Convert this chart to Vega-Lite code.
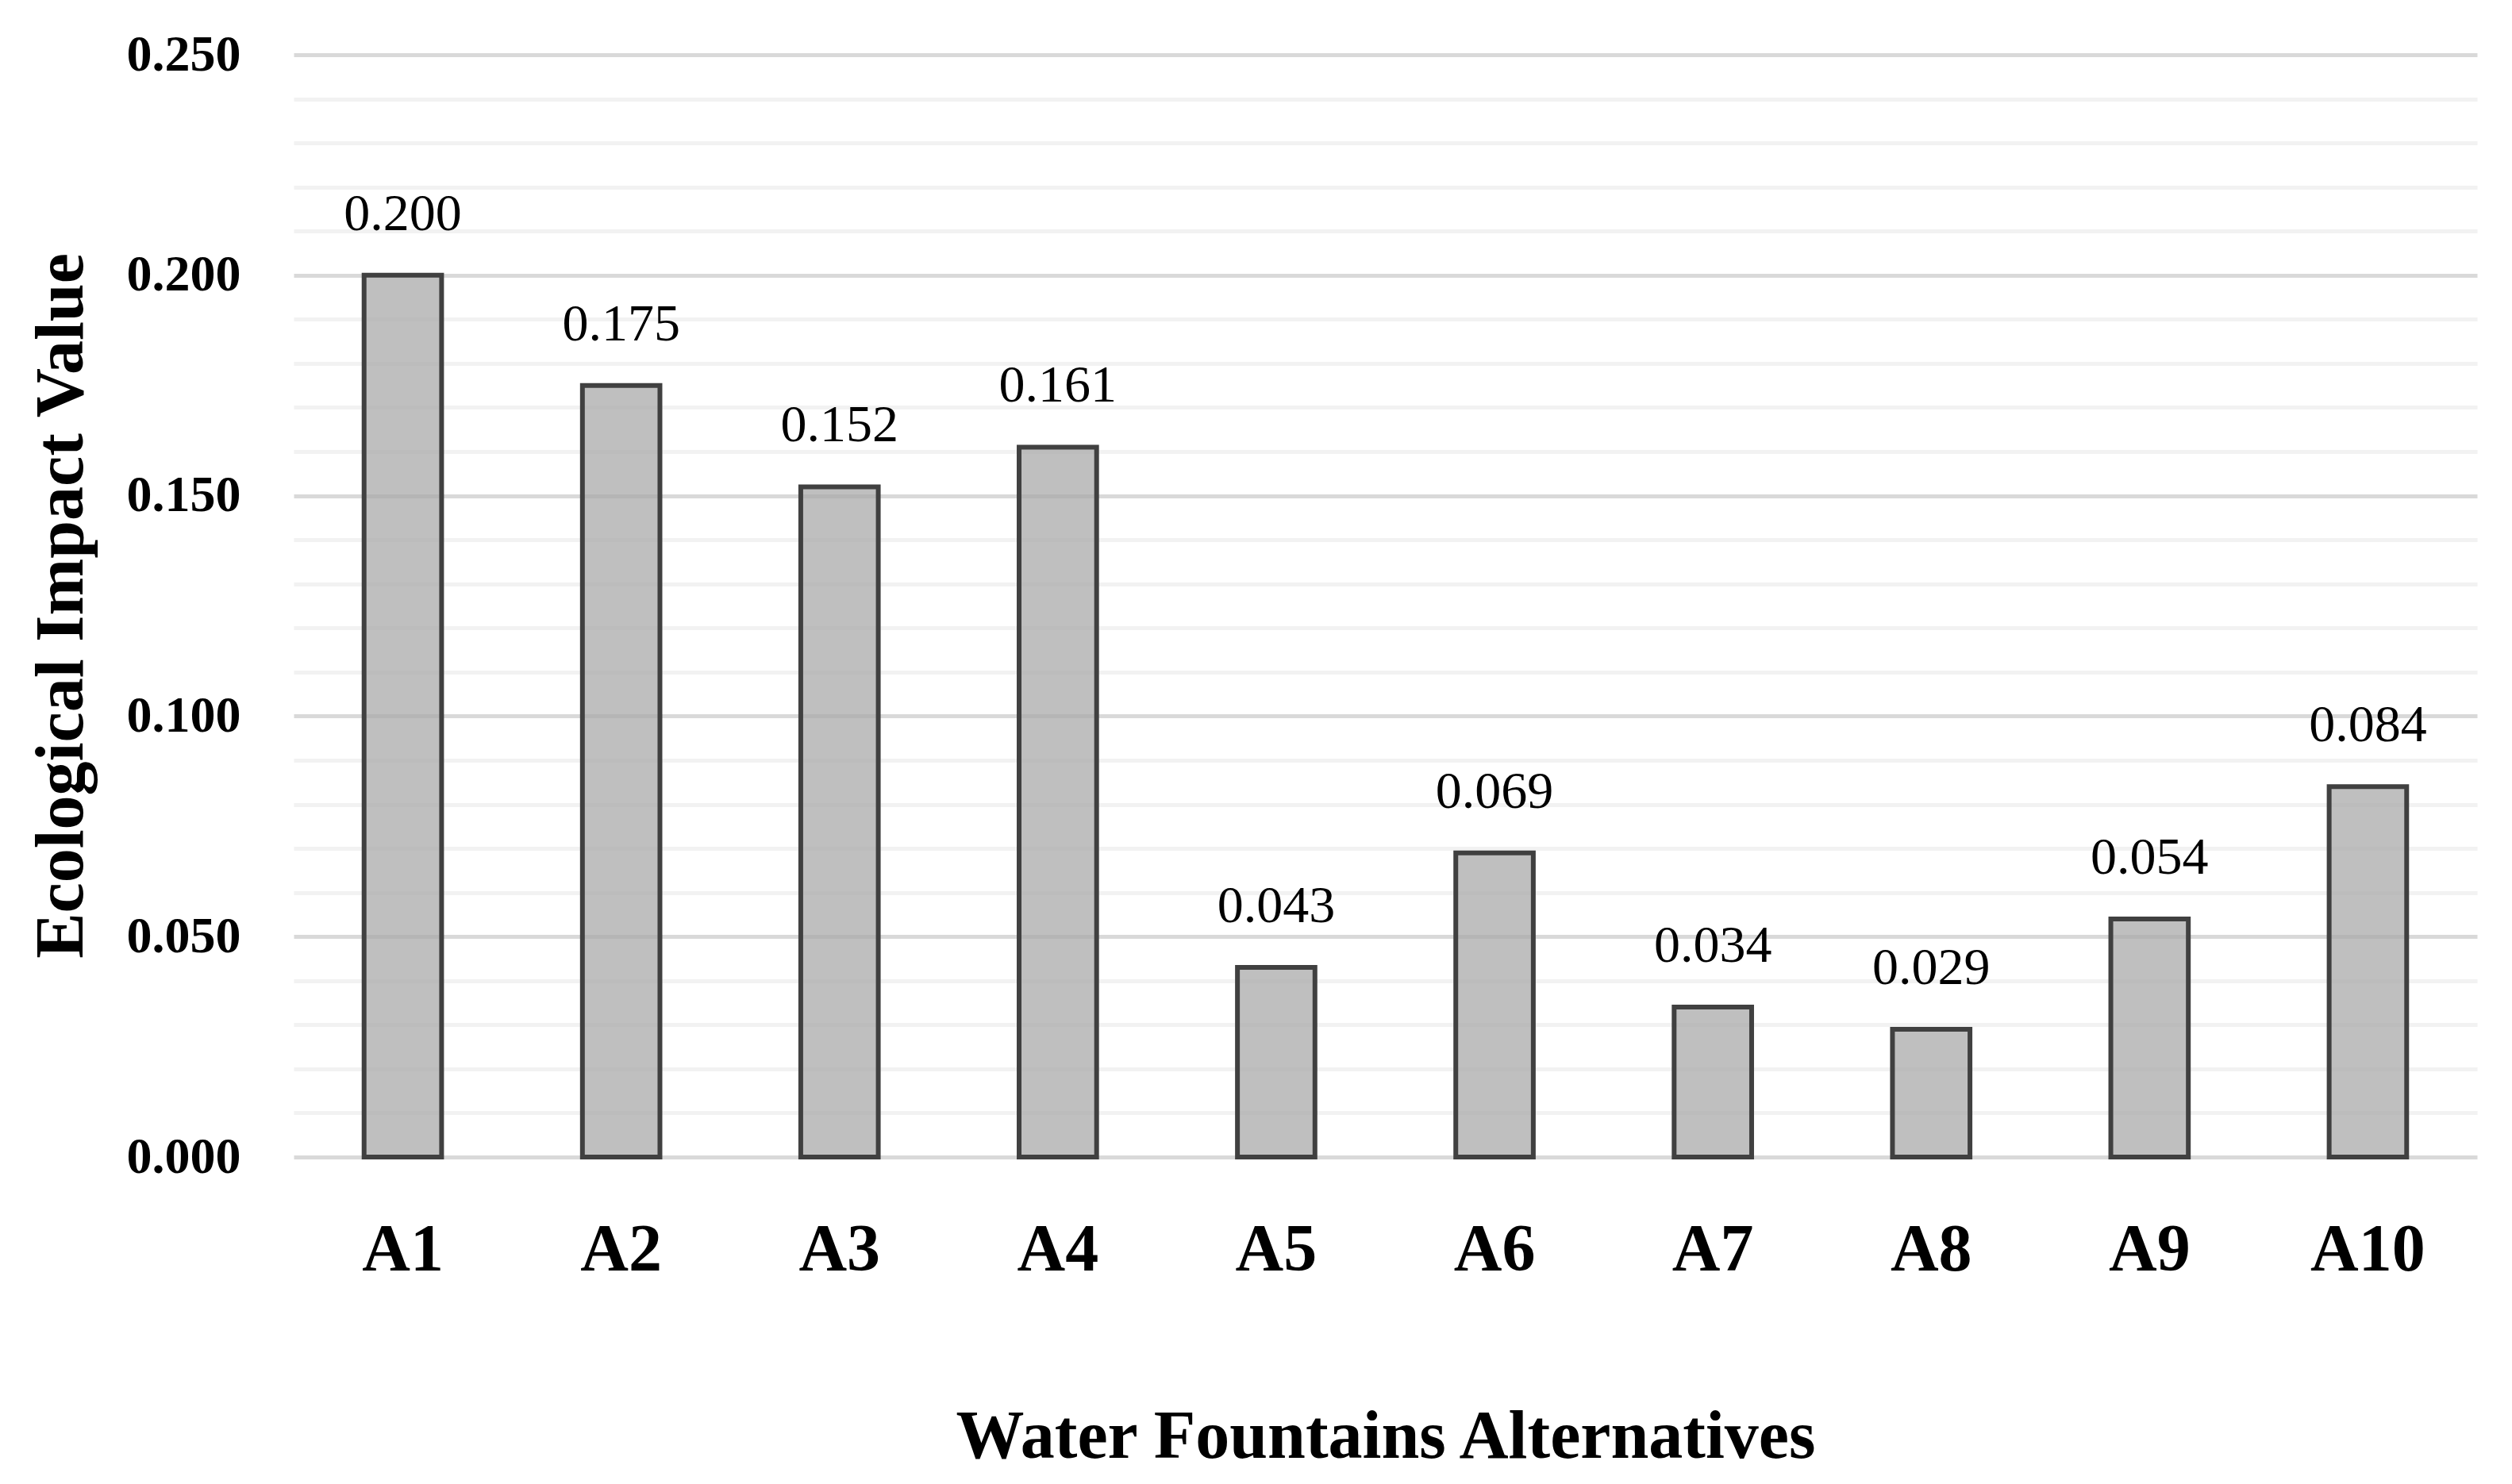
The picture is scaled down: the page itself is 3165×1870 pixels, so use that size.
{
  "$schema": "https://vega.github.io/schema/vega-lite/v6.json",
  "width": 2751,
  "height": 1389,
  "autosize": "none",
  "padding": {"left": 370, "top": 69, "right": 44, "bottom": 412},
  "background": "white",
  "config": {
    "view": {"stroke": null},
    "font": "Liberation Serif"
  },
  "data": {
    "values": [
      {"alt": "A1", "value": 0.200},
      {"alt": "A2", "value": 0.175},
      {"alt": "A3", "value": 0.152},
      {"alt": "A4", "value": 0.161},
      {"alt": "A5", "value": 0.043},
      {"alt": "A6", "value": 0.069},
      {"alt": "A7", "value": 0.034},
      {"alt": "A8", "value": 0.029},
      {"alt": "A9", "value": 0.054},
      {"alt": "A10", "value": 0.084}
    ]
  },
  "encoding": {
    "x": {
      "field": "alt",
      "type": "nominal",
      "sort": null,
      "scale": {"paddingInner": 0.645, "paddingOuter": 0.3225},
      "axis": {
        "title": "Water Fountains Alternatives",
        "titleFont": "Liberation Serif",
        "titleFontSize": 86,
        "titleFontWeight": "bold",
        "titleColor": "black",
        "titleBaseline": "alphabetic",
        "titleY": 378,
        "labelFont": "Liberation Serif",
        "labelFontSize": 84,
        "labelFontWeight": "bold",
        "labelColor": "black",
        "labelAngle": 0,
        "labelPadding": 76,
        "domain": false,
        "ticks": false,
        "grid": false
      }
    },
    "y": {
      "field": "value",
      "type": "quantitative",
      "scale": {"domain": [0, 0.25], "nice": false},
      "axis": {
        "title": "Ecological Impact Value",
        "titleFont": "Liberation Serif",
        "titleFontSize": 86,
        "titleFontWeight": "bold",
        "titleColor": "black",
        "titleAngle": -90,
        "titleBaseline": "middle",
        "titleX": -293,
        "titleY": 694,
        "values": [0, 0.01, 0.02, 0.03, 0.04, 0.05, 0.06, 0.07, 0.08, 0.09, 0.1, 0.11, 0.12, 0.13, 0.14, 0.15, 0.16, 0.17, 0.18, 0.19, 0.2, 0.21, 0.22, 0.23, 0.24, 0.25],
        "labelExpr": "round(datum.value*1000) % 50 === 0 ? format(datum.value, '.3f') : ''",
        "labelFont": "Liberation Serif",
        "labelFontSize": 64,
        "labelFontWeight": "bold",
        "labelColor": "black",
        "labelPadding": 67,
        "domain": false,
        "ticks": false,
        "grid": true,
        "gridWidth": 5,
        "gridColor": {
          "condition": {"test": "round(datum.value*1000) % 50 === 0", "value": "#d9d9d9"},
          "value": "#f2f2f2"
        }
      }
    }
  },
  "layer": [
    {
      "mark": {"type": "bar", "fill": "#a6a6a6", "fillOpacity": 0.72, "stroke": "#404040", "strokeWidth": 6}
    },
    {
      "mark": {"type": "text", "baseline": "alphabetic", "dy": -57, "fontSize": 66, "font": "Liberation Serif", "color": "black"},
      "encoding": {
        "text": {"field": "value", "type": "quantitative", "format": ".3f"}
      }
    }
  ]
}
